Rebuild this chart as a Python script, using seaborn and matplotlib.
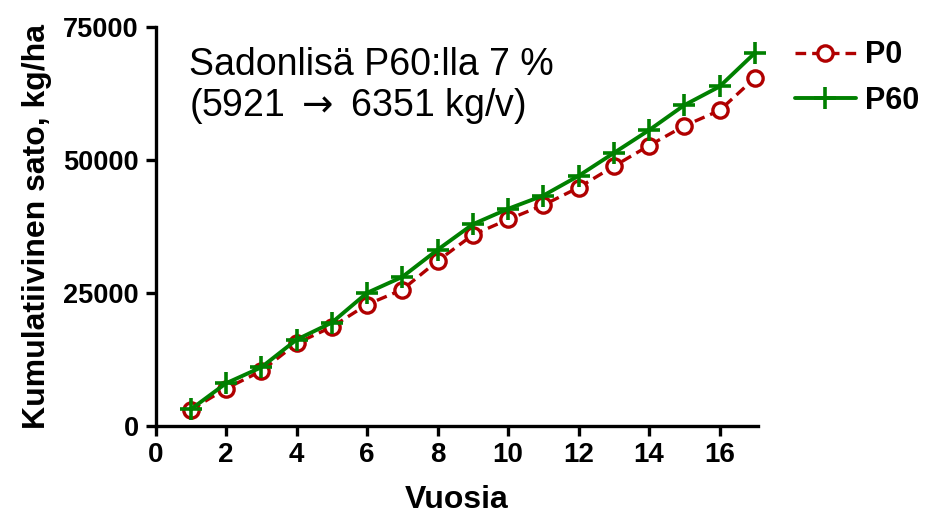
import matplotlib
matplotlib.use("Agg")
import matplotlib.pyplot as plt
import seaborn as sns
import pandas as pd
from matplotlib.lines import Line2D

years = list(range(1, 18))
p0 = [3000, 7000, 10300, 15500, 18600, 22800, 25600, 31000, 35900, 38800,
      41500, 44800, 48800, 52700, 56400, 59300, 65400]
p60 = [3100, 8000, 11000, 16200, 19400, 25000, 28000, 33100, 37900, 40800,
       43300, 47000, 51300, 55600, 60300, 63800, 70100]
series_names = ["P0", "P60"]
x_ticks = [0, 2, 4, 6, 8, 10, 12, 14, 16]
y_ticks = [0, 25000, 50000, 75000]
annotation = "Sadonlisä P60:lla 7 %\n(5921$\\;\\rightarrow\\;$6351 kg/v)"
x_label = "Vuosia"
y_label = "Kumulatiivinen sato, kg/ha"

sns.set_style("ticks")
plt.rcParams['font.family'] = ['Liberation Sans', 'DejaVu Sans']
plt.rcParams['text.color'] = 'black'
plt.rcParams['axes.labelcolor'] = 'black'
plt.rcParams['xtick.color'] = 'black'
plt.rcParams['ytick.color'] = 'black'

red = "#b00000"
green = "#008000"
dash = (0, (3.2, 1.8))

fig = plt.figure(figsize=(9.26, 5.18), dpi=100)
ax = fig.add_axes([0.168, 0.178, 0.651, 0.770])

df = pd.DataFrame({"year": years, "P0": p0, "P60": p60})

sns.lineplot(data=df, x="year", y="P0", ax=ax, color=red, linestyle=dash,
             linewidth=2.4, marker="o", markersize=11, markerfacecolor="white",
             markeredgecolor=red, markeredgewidth=2.4, clip_on=False, zorder=3)
sns.lineplot(data=df, x="year", y="P60", ax=ax, color=green, linewidth=2.8,
             marker="+", markersize=16, markeredgewidth=2.6, markeredgecolor=green,
             clip_on=False, zorder=4)

ax.set_xlim(0, 17.1)
ax.set_ylim(0, 75000)
ax.set_xticks(x_ticks)
ax.set_yticks(y_ticks)
ax.set_xticklabels([str(t) for t in x_ticks], fontsize=20, fontweight="bold")
ax.set_yticklabels([str(t) for t in y_ticks], fontsize=19.5, fontweight="bold")
ax.set_xlabel(x_label, fontsize=23, fontweight="bold", labelpad=12)
ax.set_ylabel(y_label, fontsize=23, fontweight="bold", labelpad=8)

for s in ["top", "right"]:
    ax.spines[s].set_visible(False)
for s in ["left", "bottom"]:
    ax.spines[s].set_linewidth(2.4)
    ax.spines[s].set_color("black")
ax.tick_params(axis="both", direction="out", length=7, width=2.4, color="black", pad=5)

ax.text(0.056, 0.95, annotation, transform=ax.transAxes, fontsize=27,
        va="top", ha="left", linespacing=1.1, color="black")

handles = [
    Line2D([], [], color=red, linestyle=dash, linewidth=2.4, marker="o",
           markersize=11, markerfacecolor="white", markeredgecolor=red, markeredgewidth=2.4),
    Line2D([], [], color=green, linewidth=2.8, marker="+", markersize=16,
           markeredgewidth=2.6),
]
leg = fig.legend(handles, series_names, loc="upper left", bbox_to_anchor=(0.858, 0.922),
                 frameon=False, handlelength=2.0, handletextpad=0.3, labelspacing=0.5,
                 borderpad=0, borderaxespad=0, prop={"size": 22, "weight": "bold"})

fig.savefig("out.png", dpi=100)
